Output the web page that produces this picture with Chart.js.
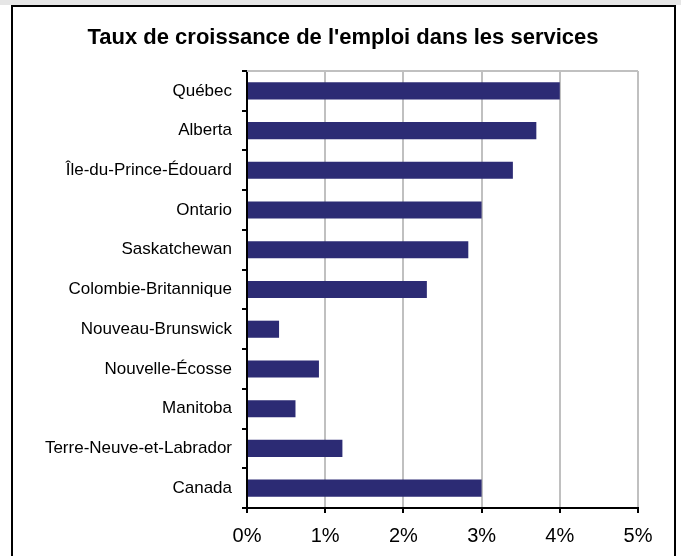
<!DOCTYPE html>
<html lang="fr">
<head>
<meta charset="utf-8">
<title>Taux de croissance de l'emploi dans les services</title>
<script src="https://cdn.jsdelivr.net/npm/chart.js@4.4.1/dist/chart.umd.min.js"></script>
<style>
  html, body { margin: 0; padding: 0; background: #fff; }
  #wrap { position: relative; width: 681px; height: 556px; }
</style>
</head>
<body>
<div id="wrap"><canvas id="chart-emploi" width="681" height="556"></canvas></div>
<script>
// Taux de croissance de l'emploi dans les services — horizontal bars

const PROVINCES = [
  'Québec', 'Alberta', 'Île-du-Prince-Édouard', 'Ontario', 'Saskatchewan',
  'Colombie-Britannique', 'Nouveau-Brunswick', 'Nouvelle-Écosse', 'Manitoba',
  'Terre-Neuve-et-Labrador', 'Canada',
];
const CROISSANCE = [4.0, 3.7, 3.4, 3.0, 2.83, 2.3, 0.41, 0.92, 0.62, 1.22, 3.0];

// x-axis ticks, percent
const X_TICKS = [0, 1, 2, 3, 4, 5];

const TITRE = "Taux de croissance de l'emploi dans les services";

const FONT = 'Liberation Sans, Arial, sans-serif';

// ── Frame (grey strip on top, black border, title) ───────────────────────────
const framePlugin = {
  id: 'frame',
  beforeDraw(chart) {
    const c = chart.ctx;
    c.save();
    c.fillStyle = '#fff';
    c.fillRect(0, 0, chart.width, chart.height);
    c.fillStyle = '#e6e6e6';
    c.fillRect(0, 0, chart.width, 5);
    c.strokeStyle = '#000';
    c.lineWidth = 2;
    c.strokeRect(12, 6, 663, chart.height + 10);

    // title, centred on the frame rather than the plot
    c.fillStyle = '#000';
    c.font = `bold 22px ${FONT}`;
    c.textAlign = 'center';
    c.textBaseline = 'middle';
    c.fillText(TITRE, 343, 38);
    c.restore();
  },
  afterDatasetsDraw(chart) {
    const { ctx: c, chartArea: a } = chart;
    c.save();
    c.strokeStyle = '#c0c0c0';
    c.lineWidth = 2;
    c.beginPath();
    c.moveTo(a.left, a.top);
    c.lineTo(a.right, a.top);
    c.stroke();
    c.restore();
  },
};

// ── Chart ─────────────────────────────────────────────────────────────────────
function initChart() {
  const navy = '#2c2b74';

  new Chart(document.getElementById('chart-emploi'), {
    type: 'bar',
    data: {
      labels: PROVINCES,
      datasets: [{
        data: CROISSANCE,
        backgroundColor: navy,
        borderWidth: 0,
        barPercentage: 0.43,
        categoryPercentage: 1,
      }],
    },
    options: {
      indexAxis: 'y',
      responsive: false,
      animation: false,
      layout: { padding: { top: 71, left: 0, right: 43, bottom: 0 } },
      plugins: {
        legend: { display: false },
        tooltip: { enabled: false },
      },
      scales: {
        x: {
          min: X_TICKS[0],
          max: X_TICKS[X_TICKS.length - 1],
          afterBuildTicks: s => { s.ticks = X_TICKS.map(v => ({ value: v })); },
          afterFit: s => { s.height = 48; },
          ticks: {
            color: '#000',
            padding: 11,
            font: { family: FONT, size: 20 },
            callback: v => v + '%',
          },
          grid: { color: '#c0c0c0', lineWidth: 2, tickColor: '#000', tickLength: 5, tickWidth: 2 },
          border: { color: '#000', width: 2 },
        },
        y: {
          afterFit: s => { s.width = 247; },
          ticks: { color: '#000', padding: 10, font: { family: FONT, size: 17 } },
          grid: { drawOnChartArea: false, color: '#000', lineWidth: 2, tickLength: 5 },
          border: { color: '#000', width: 2 },
        },
      },
    },
    plugins: [framePlugin],
  });
}

initChart();
</script>
</body>
</html>
